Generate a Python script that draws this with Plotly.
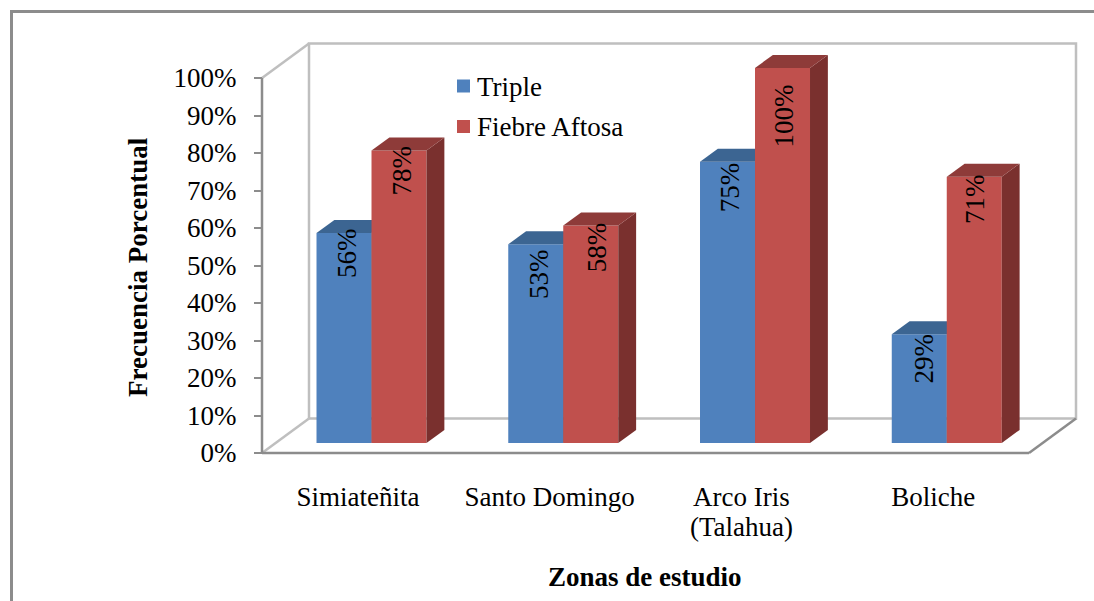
import plotly.graph_objects as go

categories = ["Simiateñita", "Santo Domingo", "Arco Iris<br>(Talahua)", "Boliche"]
triple = [56, 53, 75, 29]
aftosa = [78, 58, 100, 71]
percent_ticks = list(range(0, 101, 10))
series_names = ["Triple", "Fiebre Aftosa"]

WIDTH, HEIGHT = 1094, 601
AXIS_LEFT, AXIS_RIGHT, AXIS_ZERO, AXIS_FULL = 262, 1029, 453, 78
SLOT = (AXIS_RIGHT - AXIS_LEFT) / len(categories)
PCT = (AXIS_ZERO - AXIS_FULL) / 100

# Oblique projection of the chart box: depth 0 is the front plane, depth 1 the back wall
DEPTH_X = 47 / SLOT
DEPTH_Y = 34.5 / PCT
BAR_FRONT, BAR_BACK = 0.29, 0.67
BAR_WIDTH = 55 / SLOT

BLUE = "#4F81BD"
RED = "#C0504D"
BLUE_TOP = "#3C6592"
BLUE_SIDE = "#2F5078"
RED_TOP = "#8E3B39"
RED_SIDE = "#7A302E"
WALL = "#BFBFBF"
AXIS = "#8C8C8C"
SERIF = "Liberation Serif"
TEXT_SIZE = 27


def project(x, value, depth):
    return x + depth * DEPTH_X, value + depth * DEPTH_Y


def polygon(corners, color, layer):
    pts = [project(*c) for c in corners]
    return go.Scatter(
        x=[p[0] for p in pts] + [pts[0][0]],
        y=[p[1] for p in pts] + [pts[0][1]],
        mode="lines", fill="toself", fillcolor=color,
        line=dict(width=0, color=color), hoverinfo="skip",
        showlegend=False, zorder=layer,
    )


def wire(corners, color, layer=0, width=2.5):
    pts = [project(*c) for c in corners]
    return go.Scatter(
        x=[p[0] for p in pts], y=[p[1] for p in pts], mode="lines",
        line=dict(width=width, color=color), hoverinfo="skip",
        showlegend=False, zorder=layer,
    )


def page_text(x, y, text, anchor="center", angle=0):
    return dict(
        x=x / WIDTH, y=1 - y / HEIGHT, xref="paper", yref="paper",
        xanchor=anchor, yanchor="middle", text=text, textangle=angle,
        showarrow=False, font=dict(family=SERIF, size=TEXT_SIZE, color="black"),
    )


fig = go.Figure()
n = len(categories)

# Back wall, side wall edges and floor
fig.add_trace(wire([(0, 0, 1), (0, 100, 1), (n, 100, 1), (n, 0, 1), (0, 0, 1)], WALL))
fig.add_trace(wire([(0, 100, 0), (0, 100, 1)], WALL))
fig.add_trace(wire([(0, 0, 0), (0, 0, 1)], WALL))
fig.add_trace(wire([(n, 0, 0), (n, 0, 1)], AXIS))
fig.add_trace(wire([(0, 0, 0), (n, 0, 0)], AXIS))
fig.add_trace(wire([(0, 0, 0), (0, 100, 0)], AXIS))

series = [
    (series_names[0], triple, -BAR_WIDTH, BLUE, BLUE_TOP, BLUE_SIDE),
    (series_names[1], aftosa, 0.0, RED, RED_TOP, RED_SIDE),
]

layer = 1
for i in range(n):
    for name, values, offset, front, top, side in series:
        v = values[i]
        left = i + 0.5 + offset
        right = left + BAR_WIDTH
        fig.add_trace(polygon(
            [(right, 0, BAR_FRONT), (right, 0, BAR_BACK), (right, v, BAR_BACK), (right, v, BAR_FRONT)],
            side, layer))
        fig.add_trace(polygon(
            [(left, v, BAR_FRONT), (left, v, BAR_BACK), (right, v, BAR_BACK), (right, v, BAR_FRONT)],
            top, layer))
        fig.add_trace(go.Bar(
            x=[project(left + BAR_WIDTH / 2, 0, BAR_FRONT)[0]],
            y=[v], base=[BAR_FRONT * DEPTH_Y], width=[BAR_WIDTH],
            marker=dict(color=front, line=dict(width=0)),
            name=name, showlegend=False,
            hoverinfo="skip", zorder=layer,
        ))
        layer += 1

# Rotated value labels, each offset from the top edge of its bar
label_drop = {"Triple": [20, 30, 26, 24], "Fiebre Aftosa": [20, 22, 48, 22]}
label_nudge = {"Triple": [3, 3, 2, 5], "Fiebre Aftosa": [2, 6, 1, 0]}
annotations = []
for name, values, offset, *_ in series:
    for i, v in enumerate(values):
        x, y = project(i + 0.5 + offset + BAR_WIDTH / 2, v, BAR_FRONT)
        annotations.append(dict(
            x=x, y=y, xref="x", yref="y", xanchor="center", yanchor="middle",
            yshift=-label_drop[name][i], xshift=label_nudge[name][i],
            text=f"{v}%", textangle=-90, showarrow=False,
            font=dict(family=SERIF, size=TEXT_SIZE, color="black"),
        ))

annotations.append(page_text(645, 577, "<b>Zonas de estudio</b>"))
annotations.append(page_text(138, 267, "<b>Frecuencia Porcentual</b>", angle=-90))

# Category names: first line on the axis, any second line set directly beneath it
tick_lines = [c.split("<br>") for c in categories]
for i, lines in enumerate(tick_lines):
    if len(lines) > 1:
        annotations.append(page_text(AXIS_LEFT + (i + 0.5) * SLOT, 526.5, lines[1]))

# Key placed over the back wall
annotations.append(page_text(475, 87, series_names[0], anchor="left"))
annotations.append(page_text(475, 127, series_names[1], anchor="left"))


def swatch(y, color):
    return dict(type="rect", xref="paper", yref="paper", line=dict(width=0), fillcolor=color,
                x0=457 / WIDTH, x1=470 / WIDTH, y0=1 - (y + 6.5) / HEIGHT, y1=1 - (y - 6.5) / HEIGHT)


shapes = [
    dict(type="line", xref="paper", yref="paper", x0=11.5 / WIDTH, x1=11.5 / WIDTH,
         y0=0, y1=1 - 11 / HEIGHT, line=dict(color=AXIS, width=3)),
    dict(type="line", xref="paper", yref="paper", x0=10 / WIDTH, x1=1,
         y0=1 - 11.5 / HEIGHT, y1=1 - 11.5 / HEIGHT, line=dict(color=AXIS, width=3)),
    swatch(86, BLUE),
    swatch(126.5, RED),
]

fig.update_layout(
    width=WIDTH, height=HEIGHT, autosize=False,
    margin=dict(l=0, r=0, t=0, b=0),
    paper_bgcolor="white", plot_bgcolor="white",
    barmode="overlay", showlegend=False,
    annotations=annotations, shapes=shapes,
    font=dict(family=SERIF, size=TEXT_SIZE, color="black"),
    xaxis=dict(
        range=[-AXIS_LEFT / SLOT, (WIDTH - AXIS_LEFT) / SLOT],
        tickvals=[i + 0.5 for i in range(n)], ticktext=[lines[0] for lines in tick_lines],
        ticks="", ticklabelstandoff=25, showgrid=False, zeroline=False, showline=False,
        anchor="free", position=(HEIGHT - AXIS_ZERO) / HEIGHT,
        tickfont=dict(family=SERIF, size=TEXT_SIZE),
    ),
    yaxis=dict(
        range=[-(HEIGHT - AXIS_ZERO) / PCT, AXIS_ZERO / PCT],
        tickvals=percent_ticks, ticktext=[f"{t}%" for t in percent_ticks],
        ticks="outside", ticklen=8, tickwidth=2, tickcolor=AXIS, ticklabelstandoff=12,
        showgrid=False, zeroline=False, showline=False,
        anchor="free", position=AXIS_LEFT / WIDTH,
        tickfont=dict(family=SERIF, size=TEXT_SIZE),
    ),
)

fig.write_html("out.html")
